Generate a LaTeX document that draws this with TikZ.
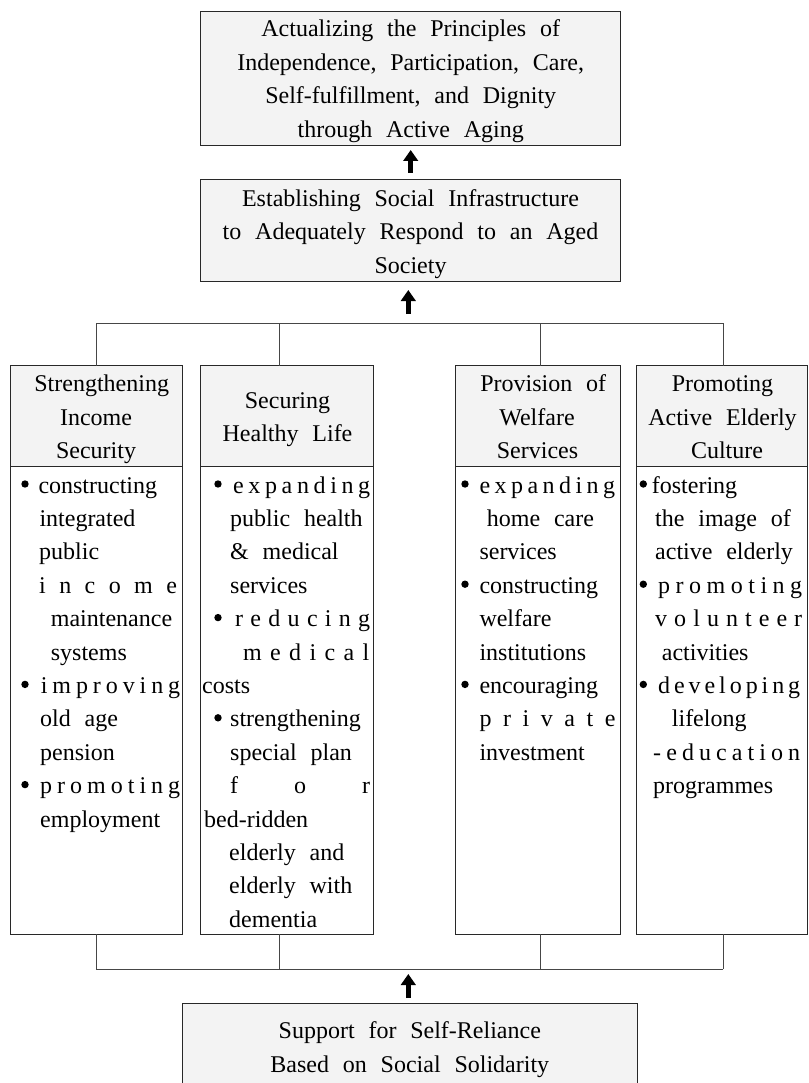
\documentclass[tikz,border=0pt]{standalone}
\usepackage{fontspec}
\setmainfont{Liberation Serif}[WordSpace=2.3]
\usetikzlibrary{arrows.meta}
\definecolor{boxfill}{RGB}{243,243,243}
\definecolor{linec}{RGB}{40,40,40}
\definecolor{busc}{RGB}{70,70,70}
\tikzset{
  box/.style={draw=linec, line width=1pt, fill=boxfill, inner sep=0pt, outer sep=0pt, anchor=north west},
  bodybox/.style={box, fill=white},
  tln/.style={anchor=base, inner sep=0pt, font=\fontsize{24}{33.4}\selectfont},
  lln/.style={anchor=base west, inner sep=0pt, font=\fontsize{24}{33.4}\selectfont},
  bul/.style={circle, fill=black, inner sep=0pt, minimum size=7.4pt},
  bus/.style={draw=busc, line width=1pt},
  bigarrow/.style={draw=black, line width=5.4pt, -{Triangle[length=11pt,width=14.5pt]}},
}
\def\spreadit#1#2{#1\ifx\relax#2\else\hfil\expandafter\spreadit\expandafter#2\fi}
\newcommand\TxC[4]{\node[tln] (#1) at (#2,#3) {#4};}
\newcommand\TxL[4]{\node[lln] (#1) at (#2,#3) {#4};}
\newcommand\TxS[5]{\node[lln] (#1) at (#2,#3) {\makebox[#4pt][s]{\spreadit#5\relax}};}
\newcommand\Bul[3]{\node[bul] (#1) at (#2,#3-9) {};}
\begin{document}
\begin{tikzpicture}[x=1pt,y=-1pt]
\useasboundingbox (0,0) rectangle (808,1083);

% main boxes
\node[box, minimum width=420pt, minimum height=134pt] (top) at (200.7,11.7) {};
\node[box, minimum width=420pt, minimum height=101pt] (mid) at (200.7,180) {};
\node[box, minimum width=454.3pt, minimum height=100pt] (bot) at (182.7,1003) {};

% column headers
\node[box, minimum width=172.7pt, minimum height=100.3pt] (h1) at (10,365.7) {};
\node[box, minimum width=173pt, minimum height=100.3pt] (h2) at (200.3,365.7) {};
\node[box, minimum width=165pt, minimum height=100.3pt] (h3) at (455.3,365.7) {};
\node[box, minimum width=171pt, minimum height=100.3pt] (h4) at (636.3,365.7) {};
% column bodies
\node[bodybox, minimum width=172.7pt, minimum height=468.3pt] (b1) at (10,466) {};
\node[bodybox, minimum width=173pt, minimum height=468.3pt] (b2) at (200.3,466) {};
\node[bodybox, minimum width=165pt, minimum height=468.3pt] (b3) at (455.3,466) {};
\node[bodybox, minimum width=171pt, minimum height=468.3pt] (b4) at (636.3,466) {};

% buses
\coordinate (t1) at (96.3,323);
\coordinate (t2) at (279.3,323);
\coordinate (t3) at (540,323);
\coordinate (t4) at (723.3,323);
\coordinate (u1) at (96.3,969);
\coordinate (u2) at (279.3,969);
\coordinate (u3) at (540,969);
\coordinate (u4) at (723.3,969);
\coordinate (a2) at (408.3,323);
\coordinate (a3) at (408.3,969);
\draw[bus] (t1) -- (t4);
\draw[bus] (t1) -- (t1 |- h1.north);
\draw[bus] (t2) -- (t2 |- h2.north);
\draw[bus] (t3) -- (t3 |- h3.north);
\draw[bus] (t4) -- (t4 |- h4.north);
\draw[bus] (u1) -- (u4);
\draw[bus] (b1.south -| u1) -- (u1);
\draw[bus] (b2.south -| u2) -- (u2);
\draw[bus] (b3.south -| u3) -- (u3);
\draw[bus] (b4.south -| u4) -- (u4);

% arrows
\draw[bigarrow, shorten <=7.3pt, shorten >=4.3pt] (mid.north) -- (top.south);
\draw[bigarrow, shorten <=9pt, shorten >=9pt] (a2) -- (a2 |- mid.south);
\draw[bigarrow, shorten <=5pt, shorten >=5pt] (a3 |- bot.north) -- (a3);

% top texts
\TxC{ta}{410.7}{36.7}{Actualizing the Principles of}
\TxC{tb}{410.7}{70.2}{Independence, Participation, Care,}
\TxC{tc}{410.7}{103.6}{Self-fulfillment, and Dignity}
\TxC{td}{410.7}{137.1}{through Active Aging}
\TxC{ma}{410.5}{206.7}{Establishing Social Infrastructure}
\TxC{mb}{410.5}{240}{to Adequately Respond to an Aged}
\TxC{mc}{410.5}{273.3}{Society}
\TxC{ba}{409.8}{1038.5}{Support for Self-Reliance}
\TxC{bb}{409.8}{1072}{Based on Social Solidarity}

% headers
\TxC{h1a}{101.7}{391.7}{Strengthening}
\TxC{h1b}{96}{425}{Income}
\TxC{h1c}{96}{458.3}{Security}
\TxC{h2a}{287.5}{408.3}{Securing}
\TxC{h2b}{287.5}{441.7}{Healthy Life}
\TxC{h3a}{543.3}{391.7}{Provision of}
\TxC{h3b}{537}{425}{Welfare}
\TxC{h3c}{537.5}{458.3}{Services}
\TxC{h4a}{722.5}{391.7}{Promoting}
\TxC{h4b}{722.5}{425}{Active Elderly}
\TxC{h4c}{727}{458.3}{Culture}

% column 1
\Bul{c1x1}{25}{493}
\TxL{c1l1}{38.3}{493}{constructing}
\TxL{c1l2}{39.3}{526.4}{integrated}
\TxL{c1l3}{39}{559.8}{public}
\TxS{c1l4}{39}{593.2}{137.7}{income}
\TxL{c1l5}{50.7}{626.6}{maintenance}
\TxL{c1l6}{50.7}{660}{systems}
\Bul{c1x2}{25}{693.4}
\TxS{c1l7}{40.7}{693.4}{139.3}{improving}
\TxL{c1l8}{40}{726.8}{old age}
\TxL{c1l9}{40}{760.2}{pension}
\Bul{c1x3}{25}{793.6}
\TxS{c1l10}{40}{793.6}{140}{promoting}
\TxL{c1l11}{40}{827}{employment}

% column 2
\Bul{c2x1}{218}{493}
\TxS{c2l1}{233}{493}{137}{expanding}
\TxL{c2l2}{230}{526.4}{public health}
\TxL{c2l3}{230}{559.8}{\& medical}
\TxL{c2l4}{230}{593.2}{services}
\Bul{c2x2}{218}{626.6}
\TxS{c2l5}{235}{626.6}{135}{reducing}
\TxS{c2l6}{243}{660}{126}{medical}
\TxL{c2l7}{202}{693.4}{costs}
\Bul{c2x3}{218}{726.8}
\TxL{c2l8}{230}{726.8}{strengthening}
\TxL{c2l9}{230}{760.2}{special plan}
\TxS{c2l10}{230}{793.6}{140}{for}
\TxL{c2l11}{204}{827}{bed-ridden}
\TxL{c2l12}{229}{860.4}{elderly and}
\TxL{c2l13}{229}{893.8}{elderly with}
\TxL{c2l14}{229}{927.2}{dementia}

% column 3
\Bul{c3x1}{465}{493}
\TxS{c3l1}{479.3}{493}{135.7}{expanding}
\TxL{c3l2}{486.7}{526.4}{home care}
\TxL{c3l3}{479.3}{559.8}{services}
\Bul{c3x2}{465}{593.2}
\TxL{c3l4}{479.3}{593.2}{constructing}
\TxL{c3l5}{479.3}{626.6}{welfare}
\TxL{c3l6}{479.3}{660}{institutions}
\Bul{c3x3}{465}{693.4}
\TxL{c3l7}{479.3}{693.4}{encouraging}
\TxS{c3l8}{479.3}{726.8}{136}{private}
\TxL{c3l9}{479.3}{760.2}{investment}

% column 4
\Bul{c4x1}{643.3}{493}
\TxL{c4l1}{651.7}{493}{fostering}
\TxL{c4l2}{655}{526.4}{the image of}
\TxL{c4l3}{655}{559.8}{active elderly}
\Bul{c4x2}{643.3}{593.2}
\TxS{c4l4}{658}{593.2}{144}{promoting}
\TxS{c4l5}{655}{626.6}{147}{volunteer}
\TxL{c4l6}{661.7}{660}{activities}
\Bul{c4x3}{643.3}{693.4}
\TxS{c4l7}{658}{693.4}{142}{developing}
\TxL{c4l8}{671.7}{726.8}{lifelong}
\TxS{c4l9}{653}{760.2}{147}{-education}
\TxL{c4l10}{653}{793.6}{programmes}
\end{tikzpicture}
\end{document}
